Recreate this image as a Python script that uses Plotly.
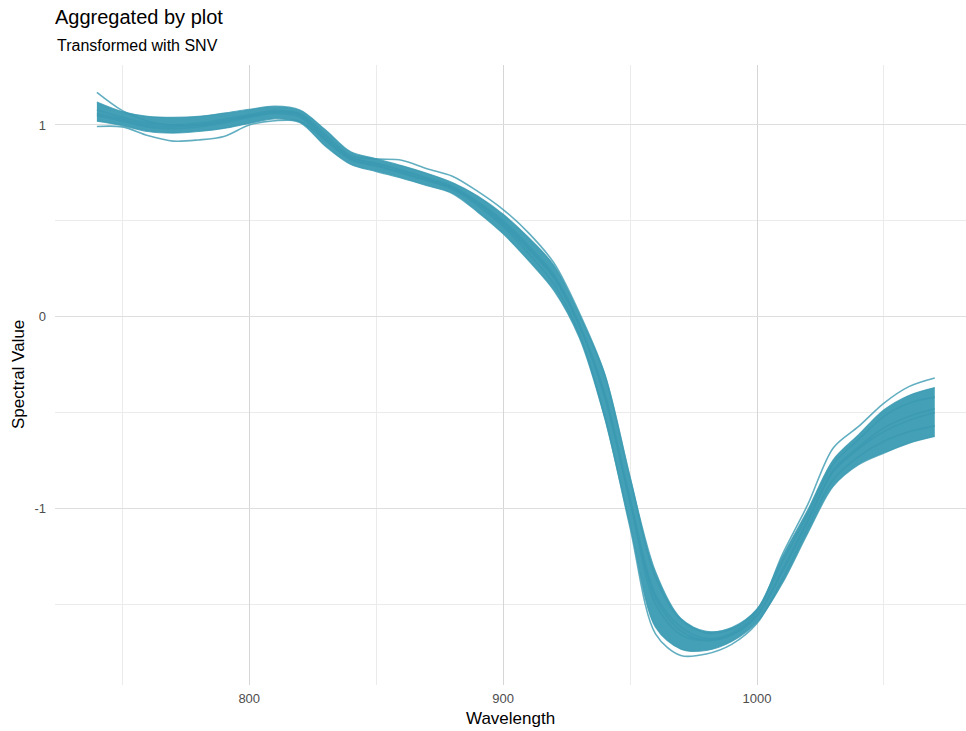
import plotly.graph_objects as go

# wavelength grid (nm)
wavelength = [740, 750, 760, 770, 780, 790, 800, 810, 820, 830, 840, 850,
              860, 870, 880, 890, 900, 910, 920, 930, 940, 950, 960, 970,
              980, 990, 1000, 1010, 1020, 1030, 1040, 1050, 1060, 1070]

# upper and lower edges of the bundle of spectra
band_upper = [1.12, 1.07, 1.045, 1.04, 1.045, 1.062, 1.082, 1.098, 1.078, 0.975,
              0.86, 0.824, 0.788, 0.748, 0.70, 0.63, 0.535, 0.413, 0.268, 0.012,
              -0.30, -0.84, -1.33, -1.575, -1.642, -1.622, -1.525, -1.252, -1.008,
              -0.747, -0.616, -0.486, -0.41, -0.37]
band_lower = [1.02, 0.997, 0.966, 0.958, 0.966, 0.982, 1.008, 1.032, 1.012, 0.889,
              0.794, 0.757, 0.722, 0.683, 0.642, 0.545, 0.432, 0.292, 0.136, -0.11,
              -0.53, -1.09, -1.62, -1.735, -1.742, -1.695, -1.595, -1.391, -1.13,
              -0.886, -0.773, -0.712, -0.66, -0.625]

# individual plots that stick out of the bundle
plot_low_start = [0.992, 0.99, 0.945, 0.916, 0.922, 0.94, 1.0, 1.022, 1.018, 0.92,
                  0.82, 0.79, 0.75, 0.71, 0.67, 0.59, 0.48, 0.35, 0.2, -0.05,
                  -0.42, -0.97, -1.5, -1.66, -1.69, -1.66, -1.56, -1.33, -1.07,
                  -0.81, -0.69, -0.6, -0.54, -0.5]
plot_spike = [1.17, 1.075, 1.02, 1.0, 1.0, 1.02, 1.045, 1.065, 1.05, 0.93,
              0.83, 0.8, 0.76, 0.72, 0.675, 0.595, 0.49, 0.36, 0.21, -0.04,
              -0.41, -0.96, -1.47, -1.64, -1.69, -1.66, -1.56, -1.32, -1.06,
              -0.8, -0.68, -0.58, -0.52, -0.48]
plot_high_mid = [1.06, 1.03, 1.0, 0.99, 1.0, 1.02, 1.05, 1.07, 1.06, 0.95,
                 0.84, 0.823, 0.816, 0.772, 0.733, 0.654, 0.559, 0.437, 0.28, 0.02,
                 -0.3, -0.84, -1.36, -1.58, -1.65, -1.63, -1.53, -1.28, -1.03,
                 -0.77, -0.64, -0.52, -0.45, -0.42]
plot_low_min = [1.05, 1.02, 0.99, 0.98, 0.99, 1.01, 1.04, 1.06, 1.04, 0.92,
                0.82, 0.785, 0.75, 0.71, 0.665, 0.58, 0.47, 0.33, 0.17, -0.09,
                -0.52, -1.10, -1.655, -1.768, -1.76, -1.71, -1.60, -1.37, -1.1,
                -0.85, -0.73, -0.65, -0.6, -0.57]
plot_high_end = [1.08, 1.04, 1.01, 1.0, 1.01, 1.03, 1.055, 1.075, 1.055, 0.94,
                 0.83, 0.8, 0.765, 0.725, 0.68, 0.6, 0.5, 0.37, 0.22, -0.04,
                 -0.4, -0.95, -1.45, -1.62, -1.68, -1.65, -1.54, -1.24, -0.98,
                 -0.685, -0.573, -0.451, -0.364, -0.32]

x_tick_vals = [800, 900, 1000]
y_tick_vals = [-1, 0, 1]
y_tick_text = ['-1', '0', '1']

teal = 'rgba(59,154,178,0.8)'
font = 'Liberation Sans, Arial, sans-serif'

fig = go.Figure()

fig.add_trace(go.Scatter(x=wavelength, y=band_lower, mode='lines',
                         line=dict(color=teal, width=1.2, shape='spline', smoothing=0.9),
                         showlegend=False, hoverinfo='skip'))
fig.add_trace(go.Scatter(x=wavelength, y=band_upper, mode='lines', fill='tonexty',
                         fillcolor='rgba(58,155,178,0.95)',
                         line=dict(color=teal, width=1.2, shape='spline', smoothing=0.9),
                         showlegend=False, hoverinfo='skip'))

for ys in [plot_low_start, plot_spike, plot_high_mid, plot_low_min, plot_high_end]:
	fig.add_trace(go.Scatter(x=wavelength, y=ys, mode='lines',
	                         line=dict(color=teal, width=1.6, shape='spline', smoothing=0.9),
	                         showlegend=False, hoverinfo='skip'))

fig.update_layout(
	width=966,
	height=731,
	plot_bgcolor='white',
	paper_bgcolor='white',
	margin={'l': 55, 'r': 0, 't': 65, 'b': 46},
	font=dict(family=font, color='black'),
	title={
		'text': 'Aggregated by plot',
		'x': 55 / 966,
		'xanchor': 'left',
		'y': 1 - 10 / 731,
		'yanchor': 'top',
		'font': dict(size=20, family=font, color='black')},
	annotations=[
		dict(text='Transformed with SNV', xref='paper', yref='paper',
		     x=0, y=1 + 19 / 620, xanchor='left', yanchor='middle',
		     showarrow=False, font=dict(size=16, family=font, color='black')),
		dict(text='Wavelength', xref='paper', yref='paper',
		     x=0.5, y=-33 / 620, xanchor='center', yanchor='middle',
		     showarrow=False, font=dict(size=17, family=font, color='black')),
		dict(text='Spectral Value', xref='paper', yref='paper', textangle=-90,
		     x=-37 / 911, y=0.5, xanchor='center', yanchor='middle',
		     showarrow=False, font=dict(size=17, family=font, color='black')),
	],
)

fig.update_xaxes(
	range=[723.5, 1082.3],
	automargin=False,
	tickvals=x_tick_vals,
	showgrid=True, gridcolor='#d6d6d6', gridwidth=1.4,
	minor=dict(dtick=50, tick0=750, showgrid=True, gridcolor='#ebebeb', gridwidth=1.2),
	zeroline=False, showline=False, ticks='',
	ticklabelstandoff=4,
	tickfont=dict(size=13, color='#4d4d4d'),
)
fig.update_yaxes(
	range=[-1.922, 1.313],
	automargin=False,
	tickvals=y_tick_vals, ticktext=y_tick_text,
	showgrid=True, gridcolor='#dedede', gridwidth=1.4,
	minor=dict(dtick=0.5, tick0=0.5, showgrid=True, gridcolor='#ebebeb', gridwidth=1.2),
	zeroline=False, showline=False, ticks='',
	ticklabelstandoff=8,
	tickfont=dict(size=13, color='#4d4d4d'),
)

fig.write_html("out.html", config={'displayModeBar': False},
               post_script="document.body.style.margin='0';")
